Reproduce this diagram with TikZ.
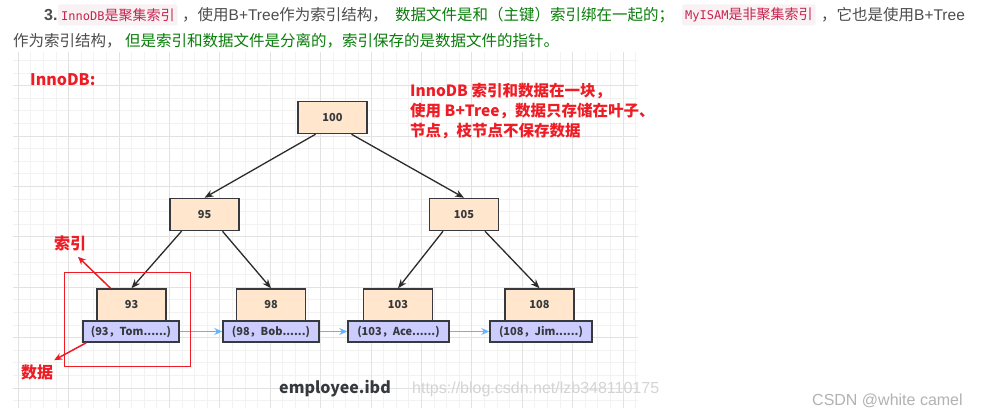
\documentclass[tikz,border=0pt]{standalone}
\usepackage{fontspec}
\setmainfont{Noto Sans CJK SC}
\newfontfamily\wmfont{Liberation Sans}
\newfontfamily\codefont{DejaVu Sans Mono}
\usetikzlibrary{positioning, arrows.meta}
\definecolor{keyfill}{HTML}{FFE6CC}
\definecolor{rowfill}{HTML}{CCCCFF}
\definecolor{boxline}{HTML}{36393D}
\definecolor{linkdark}{HTML}{2B2B2B}
\definecolor{linkblue}{HTML}{66B2FF}
\definecolor{notered}{HTML}{EE1C25}
\definecolor{bodygray}{HTML}{4D4D4D}
\definecolor{notegreen}{HTML}{0A7D0A}
\definecolor{codebg}{HTML}{F9F2F4}
\definecolor{codetext}{HTML}{C7254E}
\definecolor{gridminor}{HTML}{F2F2F2}
\definecolor{gridmajor}{HTML}{E2E2E2}

\begin{document}
\begin{tikzpicture}[x=1pt, y=-1pt,
    keybox/.style={fill=keyfill, draw=boxline, line width=1.5pt,
          minimum width=69pt, minimum height=32pt, inner sep=0pt,
          font=\fontsize{11}{11}\selectfont\bfseries, text=boxline},
    rowbox/.style={fill=rowfill, draw=boxline, line width=1.5pt,
          minimum width=96pt, minimum height=21pt, inner sep=0pt,
          font=\fontsize{11}{11}\selectfont\bfseries, text=boxline},
    treelink/.style={draw=linkdark, line width=1.3pt, -{Stealth[length=9pt, width=7pt]}},
    rowlink/.style={draw=linkblue, line width=1.4pt, -{Stealth[length=8pt, width=7pt]}},
    marklink/.style={draw=notered, line width=1.5pt, -{Stealth[length=8pt, width=7pt]}},
    plain/.style={anchor=west, inner sep=0pt, font=\fontsize{15.5}{15.5}\selectfont},
    chip/.style={anchor=west, fill=codebg, rounded corners=2pt, inner xsep=3pt,
          minimum height=21pt, text=codetext, font=\fontsize{14}{14}\selectfont},
    redlabel/.style={text=notered, inner sep=0pt, font=\fontsize{16}{16}\selectfont\bfseries}]

  \fill[white] (0,0) rectangle (985,417);
  \useasboundingbox (0,0) rectangle (985,417);

  % article text above the figure
  \node[plain, text=bodygray, font=\wmfont\fontsize{16}{16}\selectfont\bfseries] (num) at (44,15) {3.};
  \node[chip] (chipa) at (58,15) {{\codefont\fontsize{12}{12}\selectfont InnoDB}是聚集索引};
  \node[plain, text=bodygray] (texta) at (182,15) {，使用{\wmfont B+Tree}作为索引结构，};
  \node[plain, text=notegreen] (textb) at (395,15) {数据文件是和（主键）索引绑在一起的；};
  \node[chip] (chipb) at (682,15) {{\codefont\fontsize{12}{12}\selectfont MyISAM}是非聚集索引};
  \node[plain, text=bodygray] (textc) at (821,15) {，它也是使用{\wmfont B+Tree}};
  \node[plain, text=bodygray] (textd) at (13,41) {作为索引结构，};
  \node[plain, text=notegreen] (texte) at (125,41) {但是索引和数据文件是分离的，索引保存的是数据文件的指针。};

  % grid paper
  \foreach \i in {0,...,49}
    \draw[gridminor] ({17.9+12.6*\i},52) -- ++(0,356);
  \foreach \j in {-2,...,25}
    \draw[gridminor] (13,{85.4+12.6*\j}) -- ++(625,0);
  \foreach \i in {0,...,12}
    \draw[gridmajor] ({17.9+50.4*\i},52) -- ++(0,356);
  \foreach \j in {0,...,6}
    \draw[gridmajor] (13,{85.4+50.4*\j}) -- ++(625,0);

  % titles
  \node[redlabel, anchor=west] (title) at (30,80) {InnoDB:};
  \node[redlabel, anchor=west, align=left, font=\fontsize{15.5}{20}\selectfont\bfseries]
    (note) at (410,111) {InnoDB 索引和数据在一块，\\使用 B+Tree，数据只存储在叶子、\\节点，枝节点不保存数据};

  % B+Tree nodes
  \node[keybox] (k100) at (332.5,117.5) {100};
  \node[keybox] (k95) at (204.5,214.5) {95};
  \node[keybox] (k105) at (464,214.5) {105};

  \node[keybox] (k93) at (131.5,305) {93};
  \node[keybox] (k98) at (271,305) {98};
  \node[keybox] (k103) at (398,305) {103};
  \node[keybox] (k108) at (539.5,305) {108};

  \node[rowbox] (r93) at (131,331.5) {(93，Tom......)};
  \node[rowbox] (r98) at (271,331.5) {(98，Bob......)};
  \node[rowbox, minimum width=101pt] (r103) at (398.5,331.5) {(103，Ace......)};
  \node[rowbox, minimum width=102pt] (r108) at (541,331.5) {(108，Jim......)};

  \draw[treelink] ([xshift=-17]k100.south) -- (k95.north);
  \draw[treelink] ([xshift=19]k100.south) -- (k105.north);
  \draw[treelink] ([xshift=-23]k95.south) -- (k93.north);
  \draw[treelink] ([xshift=18]k95.south) -- (k98.north);
  \draw[treelink] ([xshift=-21]k105.south) -- (k103.north);
  \draw[treelink] ([xshift=21]k105.south) -- (k108.north);

  \draw[rowlink] (r93) -- (r98);
  \draw[rowlink] (r98) -- (r103);
  \draw[rowlink] (r103) -- (r108);

  % index / data callouts
  \draw[notered, line width=0.8pt] (64,272) rectangle (190,366);
  \node[redlabel] (idx) at (70,243) {索引};
  \node[redlabel] (dat) at (37,372) {数据};
  \draw[marklink] ([xshift=-21]k93.north) -- ([xshift=8,yshift=-6]idx.south);
  \draw[marklink] ([xshift=4]r93.south west) -- ([xshift=1,yshift=4]dat.north east);

  \node[text=boxline, inner sep=0pt, font=\fontsize{16}{16}\selectfont\bfseries] (file) at (335,389) {employee.ibd};

  % watermarks
  \node[anchor=west, inner sep=0pt, text=black!17, font=\wmfont\fontsize{16}{16}\selectfont] (wmurl) at (412,389) {https://blog.csdn.net/lzb348110175};
  \node[anchor=west, inner sep=0pt, text=black!30, font=\wmfont\fontsize{16}{16}\selectfont] (wmname) at (812,401) {CSDN @white camel};
\end{tikzpicture}
\end{document}
